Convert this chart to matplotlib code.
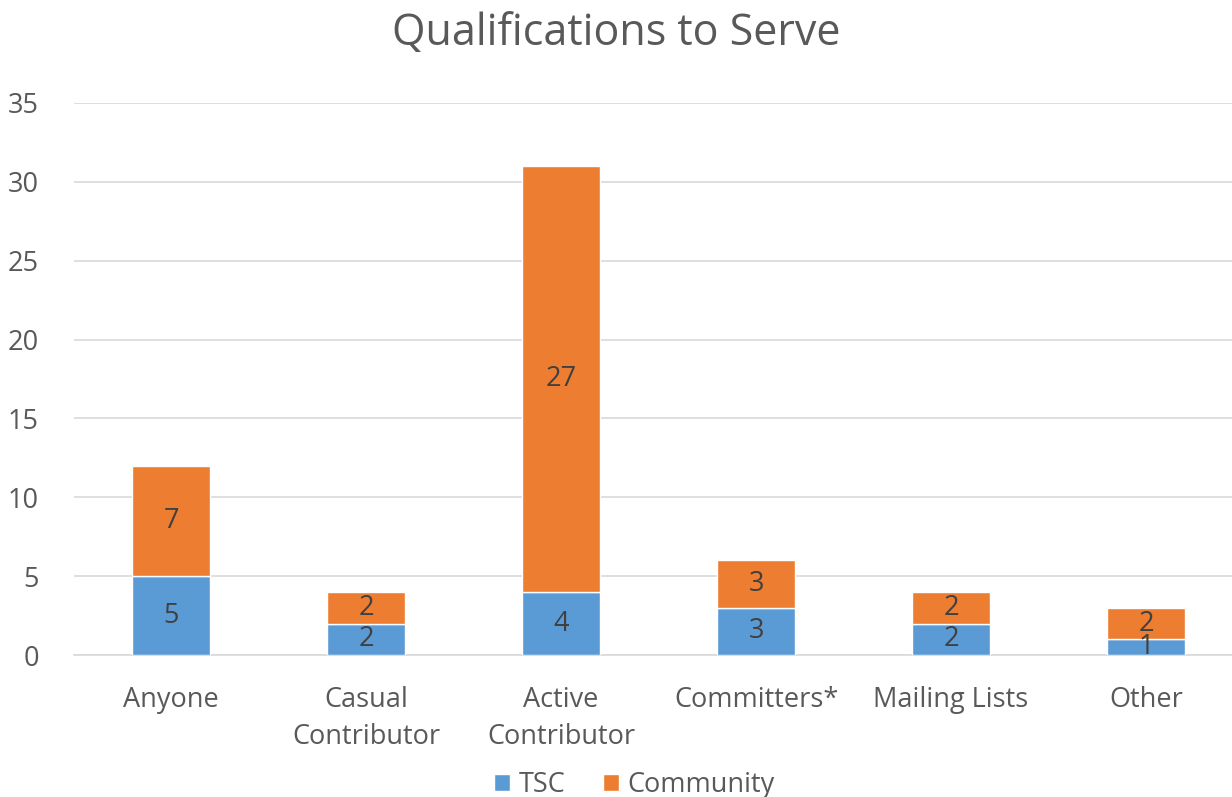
import numpy as np
import matplotlib.pyplot as plt

plt.rcParams['font.family'] = ['Open Sans', 'DejaVu Sans']

# data
categories = ["Anyone", "Casual\nContributor", "Active\nContributor",
              "Committers*", "Mailing Lists", "Other"]
tsc = [5, 2, 4, 3, 2, 1]
community = [7, 2, 27, 3, 2, 2]

blue = "#5B9BD5"
orange = "#ED7D31"
text_col = "#595959"

fig = plt.figure(figsize=(12.32, 7.97), dpi=100)
ax = fig.add_axes([0.0597, 0.178, 0.9497, 0.693])

x = np.arange(len(categories))
b1 = ax.bar(x, tsc, 0.4, color=blue, edgecolor="white", linewidth=1, label="TSC", zorder=3)
b2 = ax.bar(x, community, 0.4, bottom=tsc, color=orange, edgecolor="white", linewidth=1,
            label="Community", zorder=3)
ax.bar_label(b1, label_type="center", fontsize=19.5, color="#404040")
ax.bar_label(b2, label_type="center", fontsize=19.5, color="#404040")

ax.set_xlim(-0.5, len(categories) - 0.5)
ax.set_ylim(0, 35)
ax.set_yticks(range(0, 36, 5))
ax.yaxis.grid(True, color="#D9D9D9", linewidth=1.2, zorder=0)
ax.set_xticks(x)
ax.set_xticklabels(categories, fontsize=19.5, color=text_col, linespacing=1.42)
ax.tick_params(axis="y", labelsize=19.5, labelcolor=text_col, length=0, pad=25)
ax.tick_params(axis="x", length=0, pad=22)
for s in ["top", "right", "left"]:
    ax.spines[s].set_visible(False)
ax.spines["bottom"].set_color("#D9D9D9")
ax.spines["bottom"].set_linewidth(1.2)

fig.suptitle("Qualifications to Serve", fontsize=31, color=text_col, y=0.985)
fig.legend(handles=[b1, b2], loc="lower center", bbox_to_anchor=(0.515, -0.033), ncol=2,
           frameon=False, fontsize=19.5, labelcolor=text_col, handlelength=0.6,
           handleheight=0.6, handletextpad=0.3, columnspacing=1.4)

fig.savefig("out.png", dpi=100)
